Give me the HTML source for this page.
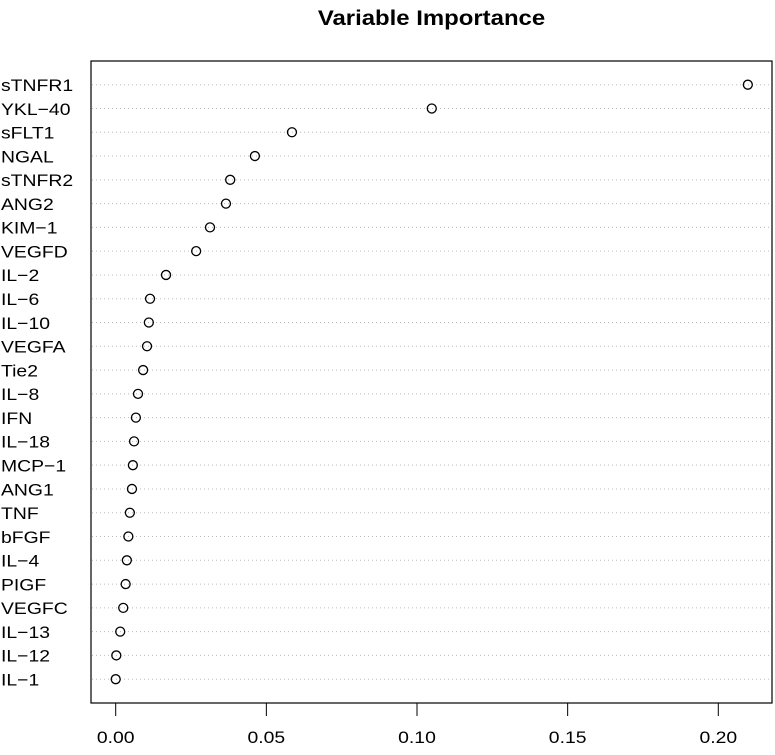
<!DOCTYPE html>
<html><head><meta charset="utf-8"><style>
body{margin:0;background:#fff;}
svg text{font-family:"Liberation Sans",Arial,sans-serif;}
</style></head><body>
<svg id="chart" width="775" height="750" xmlns="http://www.w3.org/2000/svg">
<text transform="translate(431.5,25) scale(1.14,1)" text-anchor="middle" font-size="21" font-weight="bold">Variable Importance</text>
<rect x="91" y="61" width="681" height="642" fill="none" stroke="#000" stroke-width="1.2"/>
<g id="rows"></g>
<g id="xaxis"></g>
</svg>
<script>
const categories=["sTNFR1","YKL−40","sFLT1","NGAL","sTNFR2","ANG2","KIM−1","VEGFD","IL−2","IL−6","IL−10","VEGFA","Tie2","IL−8","IFN","IL−18","MCP−1","ANG1","TNF","bFGF","IL−4","PIGF","VEGFC","IL−13","IL−12","IL−1"];
const importance=[0.2098,0.1049,0.0585,0.0462,0.038,0.0366,0.0313,0.0267,0.0167,0.0114,0.011,0.0104,0.0091,0.0074,0.0067,0.0061,0.0057,0.0054,0.0047,0.0042,0.0037,0.0033,0.0025,0.0015,0.0002,0.0];
const xTicks=[0,0.05,0.10,0.15,0.20];
const xTickLabels=["0.00","0.05","0.10","0.15","0.20"];
const NS="http://www.w3.org/2000/svg";
const xs=v=>115.7+v*3013;
const ys=i=>84.7+i*23.78;
const rows=document.getElementById('rows');
const ax=document.getElementById('xaxis');
categories.forEach((c,i)=>{
  const y=ys(i);
  const l=document.createElementNS(NS,'line');
  l.setAttribute('x1',92);l.setAttribute('x2',771);l.setAttribute('y1',y);l.setAttribute('y2',y);
  l.setAttribute('stroke','#bbb');l.setAttribute('stroke-dasharray','1 3');
  
  
  rows.appendChild(l);
  const t=document.createElementNS(NS,'text');
  t.setAttribute('transform','translate(1,'+(y+6.3)+') scale(1.14,1)');
  t.setAttribute('font-size','17');
  t.textContent=c;
  
  
  rows.appendChild(t);
  const p=document.createElementNS(NS,'circle');
  p.setAttribute('cx',xs(importance[i]));p.setAttribute('cy',y);p.setAttribute('r',4.5);
  p.setAttribute('fill','none');p.setAttribute('stroke','#000');p.setAttribute('stroke-width','1.3');
  
  
  rows.appendChild(p);
});
const base=document.createElementNS(NS,'line');
base.setAttribute('x1',xs(xTicks[0]));base.setAttribute('x2',xs(xTicks[xTicks.length-1]));
base.setAttribute('y1',703);base.setAttribute('y2',703);base.setAttribute('stroke','#000');


ax.appendChild(base);
xTicks.forEach((v,i)=>{
  const x=xs(v);
  const tk=document.createElementNS(NS,'line');
  tk.setAttribute('x1',x);tk.setAttribute('x2',x);tk.setAttribute('y1',703);tk.setAttribute('y2',716);
  tk.setAttribute('stroke','#000');
  
  
  ax.appendChild(tk);
  const t=document.createElementNS(NS,'text');
  t.setAttribute('transform','translate('+x+',743) scale(1.14,1)');
  t.setAttribute('text-anchor','middle');t.setAttribute('font-size','17');
  t.textContent=xTickLabels[i];
  
  
  ax.appendChild(t);
});
</script>
</body></html>
